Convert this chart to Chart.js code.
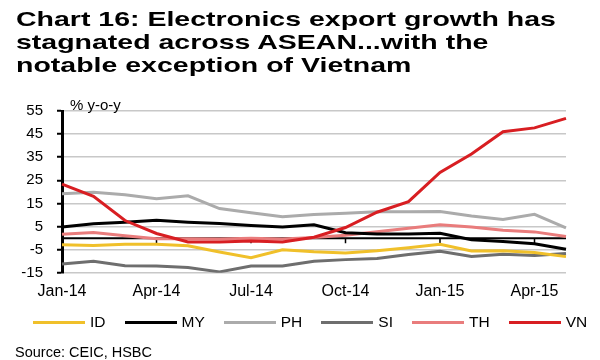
<!DOCTYPE html>
<html>
<head>
<meta charset="utf-8">
<script src="https://cdn.jsdelivr.net/npm/chart.js@4.4.0/dist/chart.umd.min.js"></script>
<style>
  body { margin: 0; background: #fff; font-family: "Liberation Sans", Arial, sans-serif; color: #000; }
  #wrap { position: relative; width: 600px; height: 360px; overflow: hidden; }
  #grafico { position: absolute; left: 0; top: 0; }
  .titulo {
    position: absolute; left: 16px; top: 7px;
    font-weight: bold; font-size: 20.5px; line-height: 23px;
    white-space: nowrap; transform: scaleX(1.39); transform-origin: 0 0;
  }
  .unidade { position: absolute; left: 70px; top: 96px; font-size: 15px; line-height: 17px; }
  #legenda {
    position: absolute; left: 33px; top: 312px; height: 20px;
    display: flex; align-items: center; gap: 19px; font-size: 15.5px;
  }
  #legenda .item { display: flex; align-items: center; }
  #legenda .linha { width: 52px; height: 3px; margin-right: 5px; }
  .fonte { position: absolute; left: 15px; top: 344px; font-size: 14.5px; line-height: 17px; }
</style>
</head>
<body>
<div id="wrap">
  <canvas id="grafico" width="600" height="360"></canvas>
  <div class="titulo">Chart 16: Electronics export growth has<br>stagnated across ASEAN...with the<br>notable exception of Vietnam</div>
  <div class="unidade">% y-o-y</div>
  <div id="legenda"></div>
  <div class="fonte">Source: CEIC, HSBC</div>
</div>
<script>
// Dados (% y-o-y)
const meses = ["Jan-14", "Feb-14", "Mar-14", "Apr-14", "May-14", "Jun-14", "Jul-14", "Aug-14", "Sep-14",
               "Oct-14", "Nov-14", "Dec-14", "Jan-15", "Feb-15", "Mar-15", "Apr-15", "May-15"];
const paises = ["ID", "MY", "PH", "SI", "TH", "VN"];

const serieID = [-2.9, -3.2, -2.7, -2.6, -3.3, -6.0, -8.5, -5.0, -5.9, -6.4, -5.5, -4.2, -2.7, -5.6, -5.5, -6.2, -8.0];
const serieMY = [4.8, 6.2, 6.9, 7.7, 6.9, 6.3, 5.5, 4.8, 5.8, 2.3, 1.8, 1.8, 2.1, -0.7, -1.5, -2.4, -4.8];
const seriePH = [19.2, 19.9, 18.8, 17.0, 18.3, 12.8, 11.0, 9.3, 10.2, 10.8, 11.4, 11.4, 11.5, 9.6, 8.1, 10.3, 4.4];
const serieSI = [-11.2, -10.0, -11.9, -12.1, -12.7, -14.6, -12.1, -12.1, -10.0, -9.3, -8.8, -7.1, -5.7, -7.9, -7.0, -7.5, -6.6];
const serieTH = [1.7, 2.4, 1.0, -0.3, -0.3, -0.4, 0.0, -0.4, 0.3, 1.2, 2.8, 4.3, 5.8, 4.8, 3.4, 2.7, 0.7];
const serieVN = [23.4, 18.1, 7.6, 2.0, -1.7, -1.7, -1.2, -1.7, 0.4, 4.6, 11.2, 15.8, 28.4, 36.4, 46.0, 47.7, 51.8];

const series = [serieID, serieMY, seriePH, serieSI, serieTH, serieVN];
const cores = ["#f0c02a", "#000000", "#ababab", "#6e6e6e", "#e97c7c", "#d81e22"];

const fonte = "'Liberation Sans', Arial, sans-serif";
Chart.defaults.font.family = fonte;
Chart.defaults.color = "#000";

// Linha do zero com marcas a cada 3 meses
const linhaZero = {
  id: "linhaZero",
  beforeDatasetsDraw(chart) {
    const { ctx, chartArea, scales: { x, y } } = chart;
    const y0 = y.getPixelForValue(0);
    ctx.save();
    ctx.strokeStyle = "#000";
    ctx.lineWidth = 2;
    ctx.beginPath();
    ctx.moveTo(chartArea.left, y0);
    ctx.lineTo(chartArea.right, y0);
    ctx.stroke();
    ctx.lineWidth = 1.5;
    ctx.beginPath();
    meses.forEach((m, i) => {
      if (i === 0 || i % 3 !== 0) return;
      const px = x.getPixelForValue(i);
      ctx.moveTo(px, y0);
      ctx.lineTo(px, y0 + 5);
    });
    ctx.stroke();
    ctx.restore();
  }
};

new Chart(document.getElementById("grafico"), {
  type: "line",
  data: {
    labels: meses,
    datasets: series.map((dados, i) => ({
      label: paises[i],
      data: dados,
      borderColor: cores[i],
      backgroundColor: cores[i],
      borderWidth: 3,
      pointRadius: 0,
      tension: 0,
      order: paises[i] === "VN" ? 0 : 1
    }))
  },
  options: {
    responsive: false,
    animation: false,
    layout: { padding: { top: 111, bottom: 50, left: 0, right: 34 } },
    plugins: {
      legend: { display: false },
      tooltip: { enabled: false }
    },
    scales: {
      x: {
        grid: { display: false, drawTicks: false },
        border: { display: false },
        ticks: {
          autoSkip: false,
          maxRotation: 0,
          padding: 9,
          font: { size: 16 },
          callback: function (value, index) {
            return index % 3 === 0 ? this.getLabelForValue(value) : "";
          }
        }
      },
      y: {
        min: -15,
        max: 55,
        ticks: { stepSize: 10, padding: 14, font: { size: 15 } },
        grid: { color: "#c8c8c8", lineWidth: 1.5, tickColor: "#000", tickLength: 5, tickWidth: 2 },
        border: { color: "#000", width: 3 },
        afterFit: function (scale) { scale.width = 62; }
      }
    }
  },
  plugins: [linhaZero]
});

// Legenda
const legenda = document.getElementById("legenda");
paises.forEach((nome, i) => {
  const item = document.createElement("div");
  item.className = "item";
  item.innerHTML = '<span class="linha" style="background:' + cores[i] + '"></span><span>' + nome + "</span>";
  legenda.appendChild(item);
});
</script>
</body>
</html>
